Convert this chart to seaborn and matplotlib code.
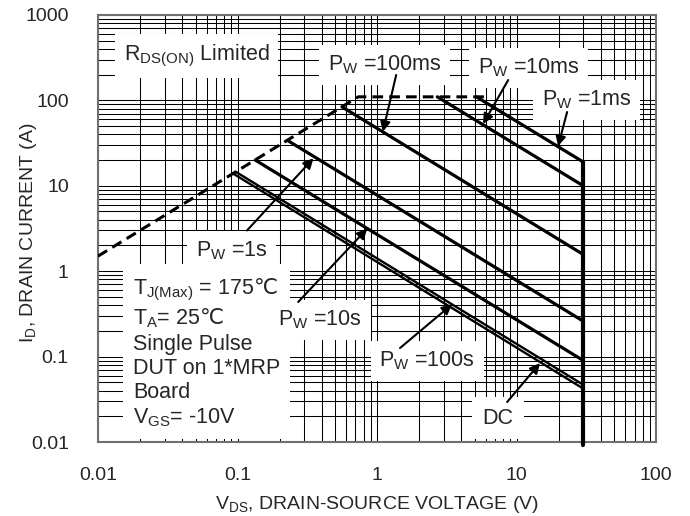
import seaborn as sns
import matplotlib.pyplot as plt
import matplotlib.ticker as ticker
import numpy as np

# safe operating area
rds_v = [0.01, 0.733, 5.9]
rds_i = [1.5, 110, 110]

pw_1ms_v = [5.15, 30]
pw_1ms_i = [110, 19]
pw_10ms_v = [2.7, 30]
pw_10ms_i = [110, 10]
pw_100ms_v = [0.56, 30]
pw_100ms_i = [84, 1.57]
pw_1s_v = [0.228, 30]
pw_1s_i = [34, 0.26]
pw_10s_v = [0.134, 30]
pw_10s_i = [20, 0.09]
pw_100s_v = [0.097, 30]
pw_100s_i = [14.6, 0.0468]
dc_v = [0.093, 30]
dc_i = [13.9, 0.0422]

vmax_v = [30, 30]
vmax_i = [19, 0.0093]

x_ticks = [0.01, 0.1, 1, 10, 100]
y_ticks = [0.01, 0.1, 1, 10, 100, 1000]

sns.set_style('white')
plt.rcParams['font.family'] = ['Liberation Sans', 'DejaVu Sans', 'Noto Sans CJK SC']
plt.rcParams['mathtext.fontset'] = 'custom'
plt.rcParams['mathtext.rm'] = 'Liberation Sans'
plt.rcParams['mathtext.sf'] = 'DejaVu Sans'
plt.rcParams['font.size'] = 14

fig, ax = plt.subplots(figsize=(6.9, 5.16), dpi=100)
fig.subplots_adjust(left=0.142, right=0.951, bottom=0.1434, top=0.971)

ax.set_xscale('log')
ax.set_yscale('log')

# dashed Rds(on) limit
sns.lineplot(x=rds_v, y=rds_i, color='black', lw=2.2, sort=False, estimator=None,
             ax=ax, zorder=4)
ax.lines[-1].set_dashes((3.5, 2))

for vv, ii, w in [(pw_1ms_v, pw_1ms_i, 2.3), (pw_10ms_v, pw_10ms_i, 2.3),
                  (pw_100ms_v, pw_100ms_i, 2.3), (pw_1s_v, pw_1s_i, 2.3),
                  (pw_10s_v, pw_10s_i, 2.3), (pw_100s_v, pw_100s_i, 1.7),
                  (dc_v, dc_i, 1.7)]:
    sns.lineplot(x=vv, y=ii, color='black', lw=w, sort=False, estimator=None,
                 ax=ax, zorder=4)

sns.lineplot(x=vmax_v, y=vmax_i, color='black', lw=3, sort=False, estimator=None,
             ax=ax, zorder=4)
ax.lines[-1].set_clip_on(False)

ax.set_xlim(0.01, 100)
ax.set_ylim(0.01, 1000)

ax.xaxis.set_major_locator(ticker.FixedLocator(x_ticks))
ax.yaxis.set_major_locator(ticker.FixedLocator(y_ticks))
ax.xaxis.set_minor_locator(ticker.LogLocator(base=10, subs=np.arange(2, 10), numticks=100))
ax.yaxis.set_minor_locator(ticker.LogLocator(base=10, subs=np.arange(2, 10), numticks=100))
ax.xaxis.set_major_formatter(ticker.FuncFormatter(lambda v, p: '%g' % v))
ax.yaxis.set_major_formatter(ticker.FuncFormatter(lambda v, p: '%g' % v))
ax.xaxis.set_minor_formatter(ticker.NullFormatter())
ax.yaxis.set_minor_formatter(ticker.NullFormatter())
ax.tick_params(which='both', direction='in')
ax.tick_params(axis='x', which='major', pad=18)
ax.tick_params(axis='y', which='major', pad=21)
ax.tick_params(which='major', length=4)
ax.tick_params(which='minor', length=3)

ax.set_axisbelow(True)
ax.grid(which='both', color='black', lw=0.75)
for s in ax.spines.values():
    s.set_color('#707070')
    s.set_linewidth(1.5)

ax.set_xlabel(r'V$_\mathrm{DS}$, DRAIN-SOURCE VOLTAGE (V)', labelpad=7)
ax.set_ylabel(r'I$_\mathrm{D}$, DRAIN CURRENT (A)')
ax.yaxis.set_label_coords(-0.105, 0.49)

fs = 15.5
box = dict(facecolor='white', edgecolor='none', boxstyle='square,pad=0.4')
labels = [(0.177, 0.904, r'R$_\mathrm{DS(ON)}$ Limited'),
          (0.514, 0.883, r'P$_\mathrm{W}$ =100ms'),
          (0.771, 0.876, r'P$_\mathrm{W}$ =10ms'),
          (0.876, 0.801, r'P$_\mathrm{W}$ =1ms'),
          (0.240, 0.447, r'P$_\mathrm{W}$ =1s'),
          (0.590, 0.190, r'P$_\mathrm{W}$ =100s')]
for lx, ly, txt in labels:
    ax.text(lx, ly, txt, transform=ax.transAxes, ha='center', va='center',
            fontsize=fs, bbox=box, zorder=3)
ax.text(0.717, 0.056, 'DC', transform=ax.transAxes, ha='center', va='center',
        fontsize=fs, bbox=dict(facecolor='white', edgecolor='none',
                               boxstyle='square,pad=0.5'), zorder=3)

notes = ('T$_\\mathrm{J(Max)}$ = 175$\\mathsf{\u2103}$\n'
         'T$_\\mathrm{A}$= 25$\\mathsf{\u2103}$\n'
         'Single Pulse\n'
         'DUT on 1*MRP\n'
         'Board\n'
         'V$_\\mathrm{GS}$= -10V')
ax.text(0.063, 0.386, notes, transform=ax.transAxes, ha='left', va='top',
        fontsize=fs, linespacing=1.2,
        bbox=dict(facecolor='white', edgecolor='none', boxstyle='square,pad=0.45'),
        zorder=3)
# the 10s label sits over the notes box
ax.text(0.398, 0.286, r'P$_\mathrm{W}$ =10s', transform=ax.transAxes,
        ha='center', va='center', fontsize=fs, bbox=box, zorder=3.5)

arrow = dict(arrowstyle='-|>', color='black', lw=1.5, mutation_scale=15,
             shrinkA=0, shrinkB=0)
for start, end in [((1.37, 198), (1.1, 43)),
                   ((8.7, 173), (5.75, 53)),
                   ((23, 73), (19.8, 29)),
                   ((0.117, 3.0), (0.35, 21)),
                   ((0.272, 0.436), (0.85, 3.15)),
                   ((1.46, 0.126), (3.45, 0.41)),
                   ((8.55, 0.0294), (14.7, 0.084))]:
    ax.annotate('', xy=end, xytext=start, arrowprops=arrow, zorder=5)

plt.savefig('out.png', dpi=100)
